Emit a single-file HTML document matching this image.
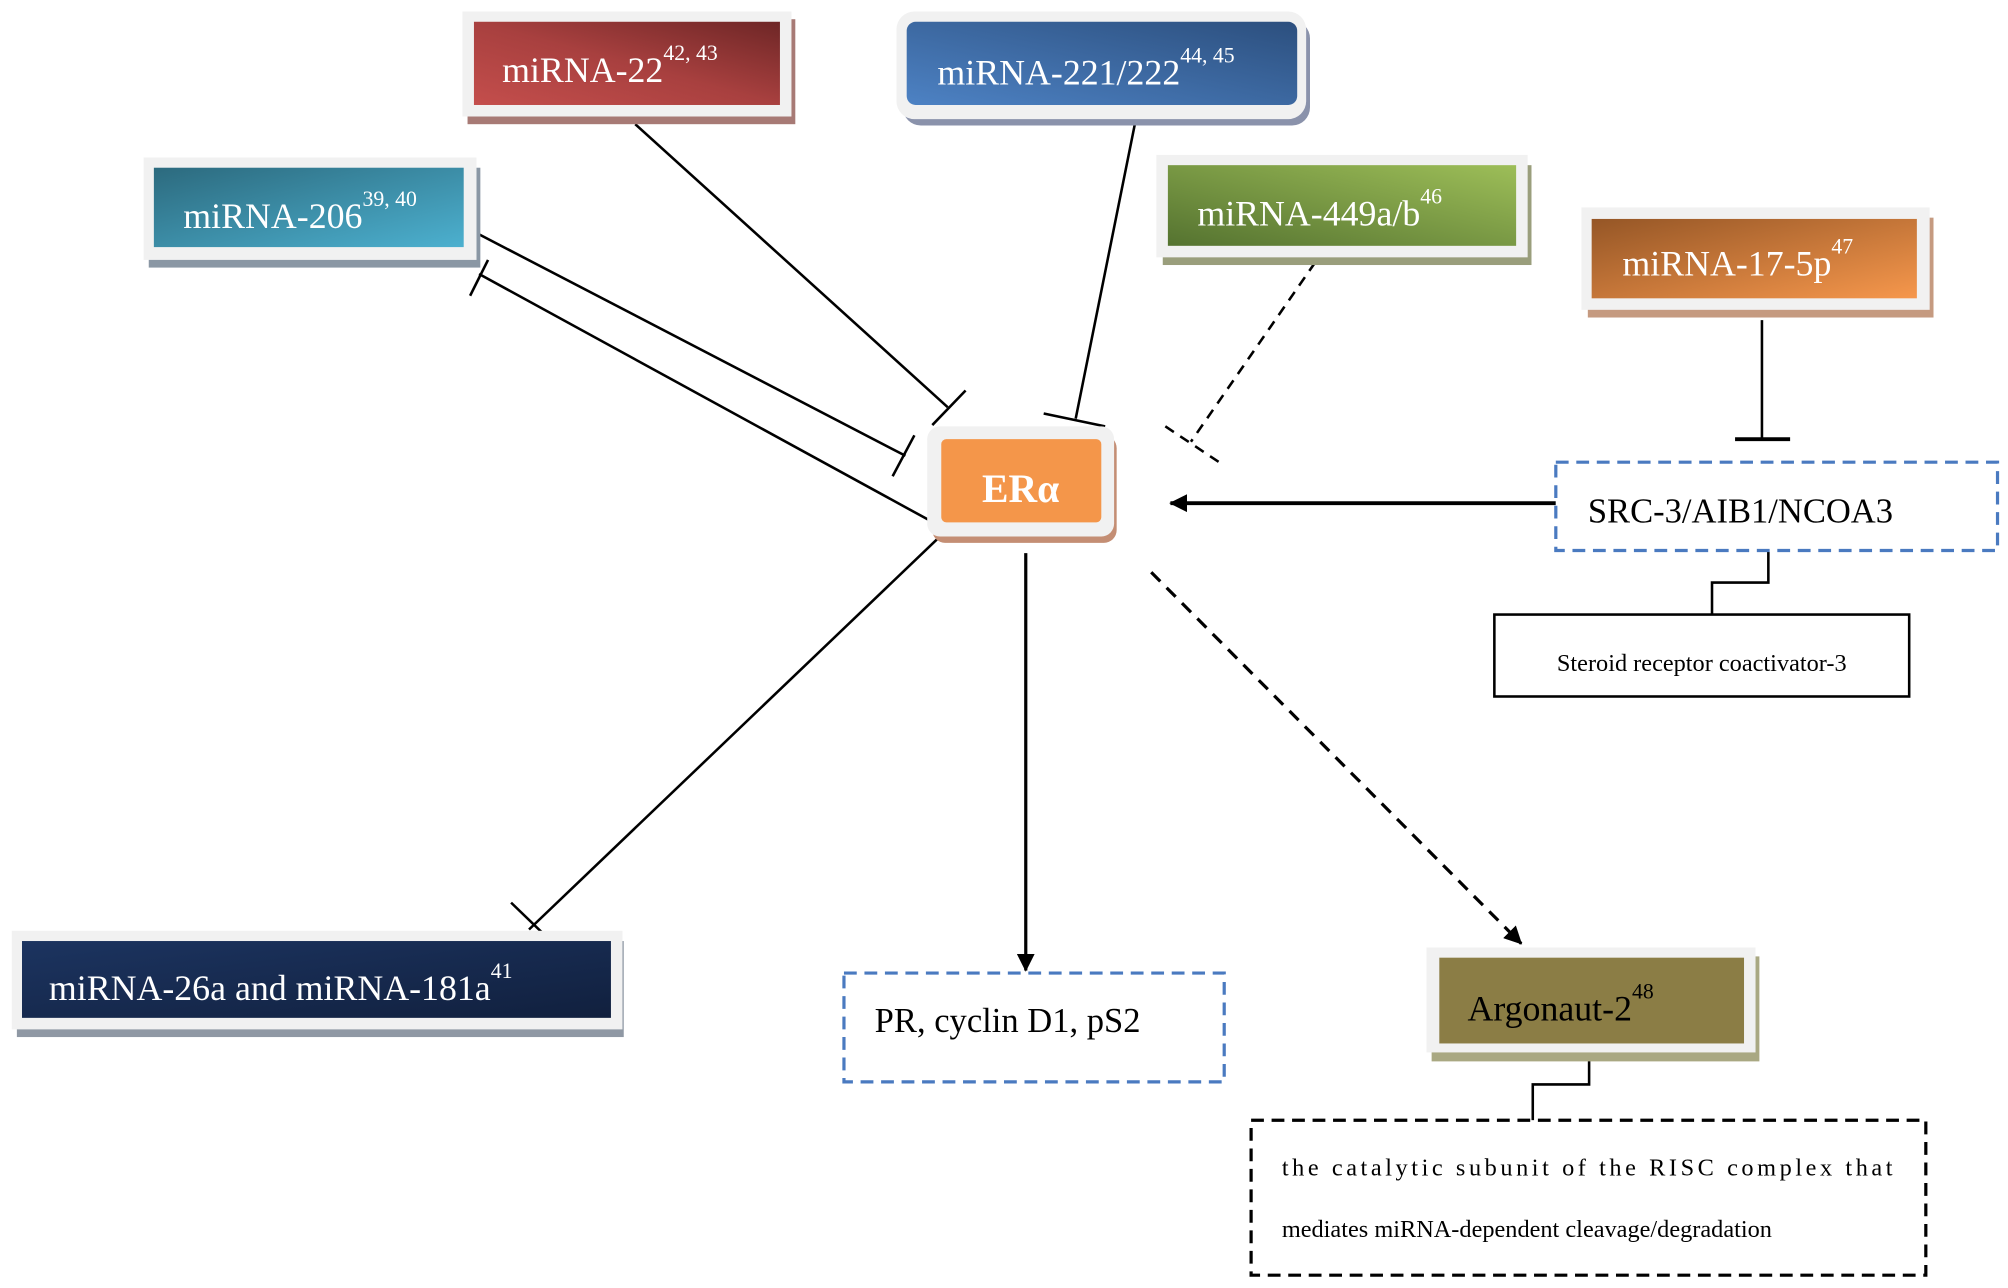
<!DOCTYPE html>
<html><head><meta charset="utf-8"><style>
html,body{margin:0;padding:0;background:#fff;}
svg{display:block;}
text{font-family:"Liberation Serif",serif;}
</style></head><body>
<svg width="2008" height="1288" viewBox="0 0 1568 1006" xmlns="http://www.w3.org/2000/svg">
<defs>
<linearGradient id="gr" x1="0" y1="1" x2="1" y2="0"><stop offset="0" stop-color="#c44e4c"/><stop offset="0.5" stop-color="#a8403f"/><stop offset="1" stop-color="#6e2626"/></linearGradient>
<linearGradient id="gb" x1="0" y1="1" x2="1" y2="0"><stop offset="0" stop-color="#4d82c4"/><stop offset="1" stop-color="#2c4f7e"/></linearGradient>
<linearGradient id="gt" x1="0" y1="0" x2="1" y2="1"><stop offset="0" stop-color="#2c6a7e"/><stop offset="1" stop-color="#4cb0cf"/></linearGradient>
<linearGradient id="gg" x1="0" y1="1" x2="1" y2="0"><stop offset="0" stop-color="#557330"/><stop offset="1" stop-color="#9dbe58"/></linearGradient>
<linearGradient id="go" x1="0" y1="0" x2="1" y2="1"><stop offset="0" stop-color="#955626"/><stop offset="1" stop-color="#f6974c"/></linearGradient>
<linearGradient id="gn" x1="0" y1="0" x2="1" y2="1"><stop offset="0" stop-color="#1c3460"/><stop offset="1" stop-color="#11203e"/></linearGradient>
<marker id="ar" markerWidth="10" markerHeight="10" refX="9" refY="5" orient="auto" markerUnits="userSpaceOnUse"><path d="M0,0 L10,5 L0,10 z" fill="#000"/></marker>
<marker id="ar2" markerWidth="14" markerHeight="14" refX="13" refY="7" orient="auto" markerUnits="userSpaceOnUse"><path d="M0,0 L14,7 L0,14 z" fill="#000"/></marker>
</defs>

<!-- lines -->
<g stroke="#000" stroke-width="2" fill="none">
<line x1="496" y1="97" x2="740" y2="318"/><line x1="728" y1="332" x2="754" y2="305"/>
<line x1="888" y1="88" x2="840" y2="327"/><line x1="815" y1="323" x2="863" y2="333"/>
<line x1="372" y1="182" x2="707" y2="356"/><line x1="697" y1="372" x2="714" y2="340"/>
<line x1="725" y1="406" x2="374" y2="214"/><line x1="367" y1="231" x2="381" y2="203"/>
<line x1="1027" y1="205" x2="930" y2="345" stroke-dasharray="8,6"/><line x1="910" y1="333" x2="952" y2="361" stroke-dasharray="8,6"/>
<line x1="1376" y1="250" x2="1376" y2="343"/><line x1="1355" y1="343" x2="1398" y2="343" stroke-width="3"/>
<line x1="1215" y1="393" x2="914" y2="393" stroke-width="3" marker-end="url(#ar2)"/>
<polyline points="1381,431 1381,455 1337,455 1337,480"/>
<line x1="801" y1="432" x2="801" y2="758" stroke-width="2.5" marker-end="url(#ar2)"/>
<line x1="899" y1="447" x2="1188" y2="737" stroke-width="2.5" stroke-dasharray="10,7" marker-end="url(#ar2)"/>
<polyline points="1241,828 1241,847 1197,847 1197,875"/>
<line x1="733" y1="420" x2="413" y2="726"/><line x1="399" y1="705" x2="428" y2="733"/>
</g>

<!-- miRNA-22 -->
<rect x="365" y="15" width="256" height="82" fill="#a77a75"/>
<rect x="361" y="9" width="257" height="82" fill="#f1f1f1"/>
<rect x="370" y="17" width="239" height="65" fill="url(#gr)"/>
<text x="392" y="64" font-size="28" fill="#fff">miRNA-22<tspan font-size="17" dy="-17">42, 43</tspan></text>

<!-- miRNA-221/222 -->
<rect x="705" y="16" width="318" height="82" rx="14" fill="#8a92ab"/>
<rect x="700" y="9" width="320" height="84" rx="14" fill="#f1f1f1"/>
<rect x="708" y="17" width="305" height="65" rx="7" fill="url(#gb)"/>
<text x="732" y="66" font-size="28" fill="#fff">miRNA-221/222<tspan font-size="17" dy="-17">44, 45</tspan></text>

<!-- miRNA-206 -->
<rect x="116" y="131" width="259" height="78" fill="#8a97a4"/>
<rect x="112" y="123" width="260" height="80" fill="#f1f1f1"/>
<rect x="120" y="131" width="242" height="62" fill="url(#gt)"/>
<text x="143" y="178" font-size="28" fill="#fff">miRNA-206<tspan font-size="17" dy="-17">39, 40</tspan></text>

<!-- miRNA-449 -->
<rect x="908" y="129" width="288" height="78" fill="#9a9e7c"/>
<rect x="903" y="121" width="290" height="80" fill="#f1f1f1"/>
<rect x="912" y="129" width="272" height="63" fill="url(#gg)"/>
<text x="935" y="176" font-size="28" fill="#fff">miRNA-449a/b<tspan font-size="17" dy="-17">46</tspan></text>

<!-- miRNA-17-5p -->
<rect x="1240" y="170" width="270" height="78" fill="#c59a80"/>
<rect x="1235" y="162" width="272" height="80" fill="#f1f1f1"/>
<rect x="1243" y="171" width="254" height="62" fill="url(#go)"/>
<text x="1267" y="215" font-size="28" fill="#fff">miRNA-17-5p<tspan font-size="17" dy="-17">47</tspan></text>

<!-- ERa -->
<rect x="728" y="340" width="144" height="84" rx="10" fill="#c48e74"/>
<rect x="724" y="333" width="146" height="86" rx="10" fill="#f1f1f1"/>
<rect x="735" y="343" width="125" height="65" rx="4" fill="#f4964a"/>
<text x="797" y="392" font-size="31" font-weight="bold" fill="#fff" text-anchor="middle">ERα</text>

<!-- SRC -->
<rect x="1215" y="361" width="345" height="69" fill="#fff" stroke="#4a7ac0" stroke-width="2.5" stroke-dasharray="10,6"/>
<text x="1240" y="408" font-size="27">SRC-3/AIB1/NCOA3</text>

<!-- Steroid -->
<rect x="1167" y="480" width="324" height="64" fill="#fff" stroke="#000" stroke-width="2"/>
<text x="1329" y="524" font-size="19" text-anchor="middle">Steroid receptor coactivator-3</text>

<!-- miRNA-26a -->
<rect x="13" y="735" width="474" height="75" fill="#8f98a4"/>
<rect x="9" y="727" width="477" height="77" fill="#f1f1f1"/>
<rect x="17" y="735" width="460" height="60" fill="url(#gn)"/>
<text x="38" y="781" font-size="28" fill="#fff">miRNA-26a and miRNA-181a<tspan font-size="17" dy="-17">41</tspan></text>

<!-- PR -->
<rect x="659" y="760" width="297" height="85" fill="#fff" stroke="#4a7ac0" stroke-width="2.5" stroke-dasharray="10,6"/>
<text x="683" y="806" font-size="27">PR, cyclin D1, pS2</text>

<!-- Argonaut -->
<rect x="1118" y="747" width="256" height="82" fill="#a9a882"/>
<rect x="1114" y="740" width="257" height="82" fill="#f1f1f1"/>
<rect x="1124" y="748" width="238" height="67" fill="#8b7d45"/>
<text x="1146" y="797" font-size="28" fill="#000">Argonaut-2<tspan font-size="17" dy="-17">48</tspan></text>

<!-- RISC -->
<rect x="977" y="875" width="527" height="121" fill="#fff" stroke="#000" stroke-width="2.5" stroke-dasharray="10,6"/>
<text x="1001" y="918" font-size="19" textLength="477" lengthAdjust="spacing">the catalytic subunit of the RISC complex that</text>
<text x="1001" y="966" font-size="19">mediates miRNA-dependent cleavage/degradation</text>
</svg>
</body></html>
